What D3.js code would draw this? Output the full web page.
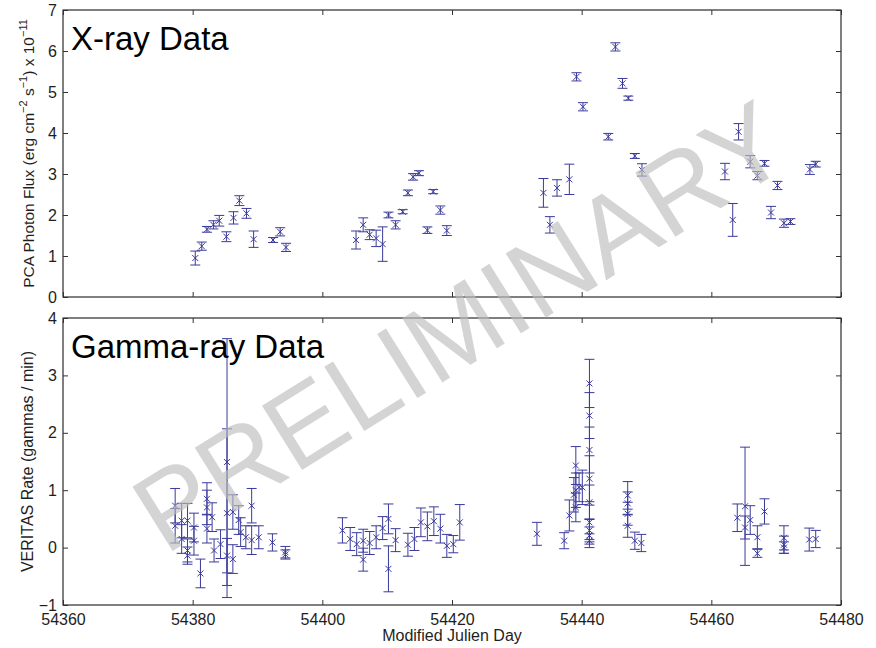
<!DOCTYPE html>
<html>
<head>
<meta charset="utf-8">
<script src="https://cdn.jsdelivr.net/npm/d3@7"></script>
<style>
  body { margin: 0; background: #fff; }
  svg { display: block; font-family: "Liberation Sans", Arial, Helvetica, sans-serif; }
</style>
</head>
<body>
<script>
// X-ray light curve (PCA flux, units of 1e-11 erg cm^-2 s^-1)
const xrayDay = [
  54380.4, 54381.4, 54382.2, 54383.2, 54384.1, 54385.2, 54386.3, 54387.2, 54388.3, 54389.4,
  54392.4, 54393.5, 54394.4,
  54405.2, 54406.3, 54407.3, 54408.3, 54409.3, 54410.2, 54411.3, 54412.4, 54413.2, 54414.0,
  54414.9, 54416.2, 54417.1, 54418.2, 54419.2,
  54434.1, 54435.1, 54436.2, 54438.1, 54439.2, 54440.2, 54444.1, 54445.2, 54446.3, 54447.2,
  54448.2, 54449.3,
  54462.1, 54463.3, 54464.2, 54466.0, 54467.1, 54468.2, 54469.2, 54470.2, 54471.2, 54472.2,
  54475.2, 54476.1
];
const xrayFlux = [
  0.95, 1.24, 1.65, 1.76, 1.86, 1.47, 1.93, 2.35, 2.04, 1.41,
  1.39, 1.59, 1.21,
  1.39, 1.76, 1.52, 1.43, 1.29, 2.00, 1.76, 2.08, 2.54, 2.93,
  3.02, 1.63, 2.57, 2.12, 1.62,
  2.54, 1.76, 2.66, 2.87, 5.37, 4.64, 3.91, 6.10, 5.21, 4.85,
  3.44, 3.10,
  3.06, 1.88, 4.03, 3.30, 2.96, 3.26, 2.06, 2.72, 1.80, 1.84,
  3.11, 3.24
];
const xrayErr = [
  0.17, 0.10, 0.07, 0.10, 0.13, 0.12, 0.15, 0.12, 0.12, 0.20,
  0.06, 0.10, 0.10,
  0.22, 0.17, 0.12, 0.20, 0.42, 0.07, 0.10, 0.05, 0.07, 0.08,
  0.06, 0.08, 0.05, 0.10, 0.12,
  0.35, 0.20, 0.20, 0.37, 0.10, 0.10, 0.08, 0.10, 0.12, 0.05,
  0.06, 0.15,
  0.20, 0.40, 0.20, 0.15, 0.10, 0.07, 0.15, 0.10, 0.10, 0.07,
  0.12, 0.07
];

// VERITAS gamma-ray rate (gammas / min)
const gammaDay = [
  54377.3, 54377.3, 54378.3, 54378.3, 54379.2, 54379.2, 54379.2, 54380.2, 54380.2, 54381.2,
  54382.2, 54382.2, 54382.2, 54383.0, 54383.3, 54384.3, 54385.3, 54385.3, 54385.3, 54386.2,
  54386.2, 54387.1, 54387.4, 54388.2, 54389.1, 54389.1, 54390.2, 54392.3, 54394.3, 54394.3,
  54403.1, 54404.3, 54405.3, 54406.3, 54406.3, 54407.3, 54408.3, 54409.3, 54410.2, 54410.2,
  54411.3, 54413.2, 54414.2, 54415.2, 54416.2, 54417.2, 54418.2, 54419.2, 54420.2, 54421.2,
  54433.1, 54437.3, 54438.1, 54438.8, 54439.1, 54439.1, 54439.1, 54439.6, 54440.1,
  54441.2, 54441.2, 54441.2, 54441.2, 54441.2, 54441.2, 54441.2, 54441.2, 54441.2,
  54447.1, 54447.1, 54447.1, 54447.1, 54448.2, 54449.2,
  54464.0, 54465.2, 54465.2, 54466.0, 54467.1, 54467.1, 54468.2, 54471.2, 54471.2, 54471.2,
  54475.1, 54476.1
];
const gammaRate = [
  0.73, 0.38, 0.47, 0.15, 0.47, -0.14, -0.05, 0.35, 0.12, -0.45,
  0.85, 0.70, 0.33, 0.53, -0.05, 0.06, 1.49, 0.60, -0.14, 0.62,
  -0.20, 0.48, 0.27, 0.18, 0.73, 0.13, 0.18, 0.09, -0.08, -0.12,
  0.30, 0.15, 0.06, 0.12, -0.21, 0.08, 0.18, 0.34, 0.50, -0.37,
  0.13, 0.05, 0.15, 0.44, 0.37, 0.46, 0.33, 0.03, 0.06, 0.44,
  0.24, 0.12, 0.56, 0.92, 1.43, 1.00, 0.70, 1.05, 1.05,
  2.86, 2.30, 1.70, 1.20, 0.79, 0.44, 0.30, 0.21, 0.12,
  0.91, 0.77, 0.59, 0.38, 0.12, 0.08,
  0.52, 0.72, 0.35, 0.48, 0.18, -0.10, 0.63, 0.17, 0.05, 0.00,
  0.14, 0.15
];
const gammaErr = [
  0.30, 0.30, 0.30, 0.25, 0.30, 0.15, 0.20, 0.25, 0.25, 0.25,
  0.28, 0.30, 0.25, 0.25, 0.20, 0.25, 2.15, 1.47, 0.30, 0.30,
  0.25, 0.25, 0.25, 0.20, 0.30, 0.25, 0.20, 0.15, 0.10, 0.08,
  0.22, 0.20, 0.20, 0.20, 0.20, 0.20, 0.20, 0.20, 0.26, 0.40,
  0.20, 0.20, 0.20, 0.25, 0.25, 0.25, 0.25, 0.20, 0.15, 0.31,
  0.20, 0.14, 0.27, 0.30, 0.33, 0.30, 0.25, 0.25, 0.30,
  0.42, 0.40, 0.40, 0.40, 0.30, 0.30, 0.20, 0.15, 0.12,
  0.24, 0.20, 0.20, 0.20, 0.15, 0.15,
  0.24, 1.03, 0.20, 0.25, 0.20, 0.07, 0.22, 0.21, 0.15, 0.10,
  0.20, 0.15
];

const dayTicks = [54360, 54380, 54400, 54420, 54440, 54460, 54480];
const xrayTicks = [0, 1, 2, 3, 4, 5, 6, 7];
const gammaTicks = [-1, 0, 1, 2, 3, 4];

const W = 876, H = 648;
const left = 63, right = 841;
const markColor = '#3a3a9c';
const textColor = '#1e1e1e';

const svg = d3.select('body').append('svg')
  .attr('width', W)
  .attr('height', H);

const x = d3.scaleLinear().domain([54360, 54480]).range([left, right]);

function panel(yDomain, top, bottom, yTicks, days, vals, errs, showDays) {
  const y = d3.scaleLinear().domain(yDomain).range([bottom, top]);
  const g = svg.append('g');

  // frame
  g.append('rect')
    .attr('x', left).attr('y', top)
    .attr('width', right - left).attr('height', bottom - top)
    .attr('fill', 'none').attr('stroke', '#000').attr('stroke-width', 1);

  // inward ticks on all four sides
  const axes = [
    [d3.axisLeft(y).tickValues(yTicks).tickFormat(d3.format('d')), `translate(${left},0)`],
    [d3.axisRight(y).tickValues(yTicks).tickFormat(''), `translate(${right},0)`],
    [d3.axisBottom(x).tickValues(dayTicks).tickFormat(showDays ? d3.format('d') : ''), `translate(0,${bottom})`],
    [d3.axisTop(x).tickValues(dayTicks).tickFormat(''), `translate(0,${top})`]
  ];
  axes.forEach(([ax, tr], i) => {
    const a = g.append('g')
      .attr('transform', tr)
      .call(ax.tickSize(-5).tickPadding(i === 2 ? 9 : 6));
    a.select('.domain').remove();
    a.selectAll('line').attr('stroke', '#333');
    a.selectAll('text')
      .attr('fill', textColor)
      .style('font-size', '16px')
      .style('font-family', '"Liberation Sans", Arial, sans-serif');
  });

  const pts = days.map((d, i) => ({ d, v: vals[i], e: errs[i] }));
  const capW = 5, mk = 3;
  const pg = g.append('g')
    .attr('stroke', markColor)
    .attr('stroke-width', 1)
    .attr('fill', 'none');

  const item = pg.selectAll('g').data(pts).join('g');
  item.append('path')
    .attr('d', p => {
      const cx = x(p.d), y0 = y(p.v - p.e), y1 = y(p.v + p.e);
      return `M${cx},${y0}V${y1}` +
        `M${cx - capW},${y0}H${cx + capW}` +
        `M${cx - capW},${y1}H${cx + capW}`;
    });
  item.append('path')
    .attr('d', p => {
      const cx = x(p.d), cy = y(p.v);
      return `M${cx - mk},${cy - mk}L${cx + mk},${cy + mk}` +
        `M${cx - mk},${cy + mk}L${cx + mk},${cy - mk}`;
    });
  return g;
}

const top1 = 10, bot1 = 297, top2 = 318, bot2 = 605;
panel([0, 7], top1, bot1, xrayTicks, xrayDay, xrayFlux, xrayErr, false);
panel([-1, 4], top2, bot2, gammaTicks, gammaDay, gammaRate, gammaErr, true);

// panel titles
svg.append('text')
  .attr('x', 71).attr('y', 50)
  .attr('fill', '#000')
  .style('font-size', '33px')
  .text('X-ray Data');
svg.append('text')
  .attr('x', 71).attr('y', 358)
  .attr('fill', '#000')
  .style('font-size', '33px')
  .text('Gamma-ray Data');

// axis labels
const yl1 = svg.append('text')
  .attr('transform', `translate(34,${(top1 + bot1) / 2}) rotate(-90)`)
  .attr('text-anchor', 'middle')
  .attr('fill', textColor)
  .style('font-size', '15.5px');
yl1.append('tspan').text('PCA Photon Flux (erg cm');
yl1.append('tspan').attr('dy', -7).style('font-size', '11px').text('\u22122');
yl1.append('tspan').attr('dy', 7).text(' s');
yl1.append('tspan').attr('dy', -7).style('font-size', '11px').text('\u22121');
yl1.append('tspan').attr('dy', 7).text(') x 10');
yl1.append('tspan').attr('dy', -7).style('font-size', '11px').text('\u221211');

svg.append('text')
  .attr('transform', `translate(33,${(top2 + bot2) / 2}) rotate(-90)`)
  .attr('text-anchor', 'middle')
  .attr('fill', textColor)
  .style('font-size', '16px')
  .text('VERITAS Rate (gammas / min)');

svg.append('text')
  .attr('x', (left + right) / 2).attr('y', 641)
  .attr('text-anchor', 'middle')
  .attr('fill', textColor)
  .style('font-size', '16px')
  .text('Modified Julien Day');

// watermark
svg.append('text')
  .attr('transform', 'translate(460,326) rotate(-32)')
  .attr('text-anchor', 'middle')
  .attr('dy', '0.35em')
  .attr('fill', '#bdbdbd')
  .attr('fill-opacity', 0.65)
  .style('font-size', '110px')
  .text('PRELIMINARY');
</script>
</body>
</html>
